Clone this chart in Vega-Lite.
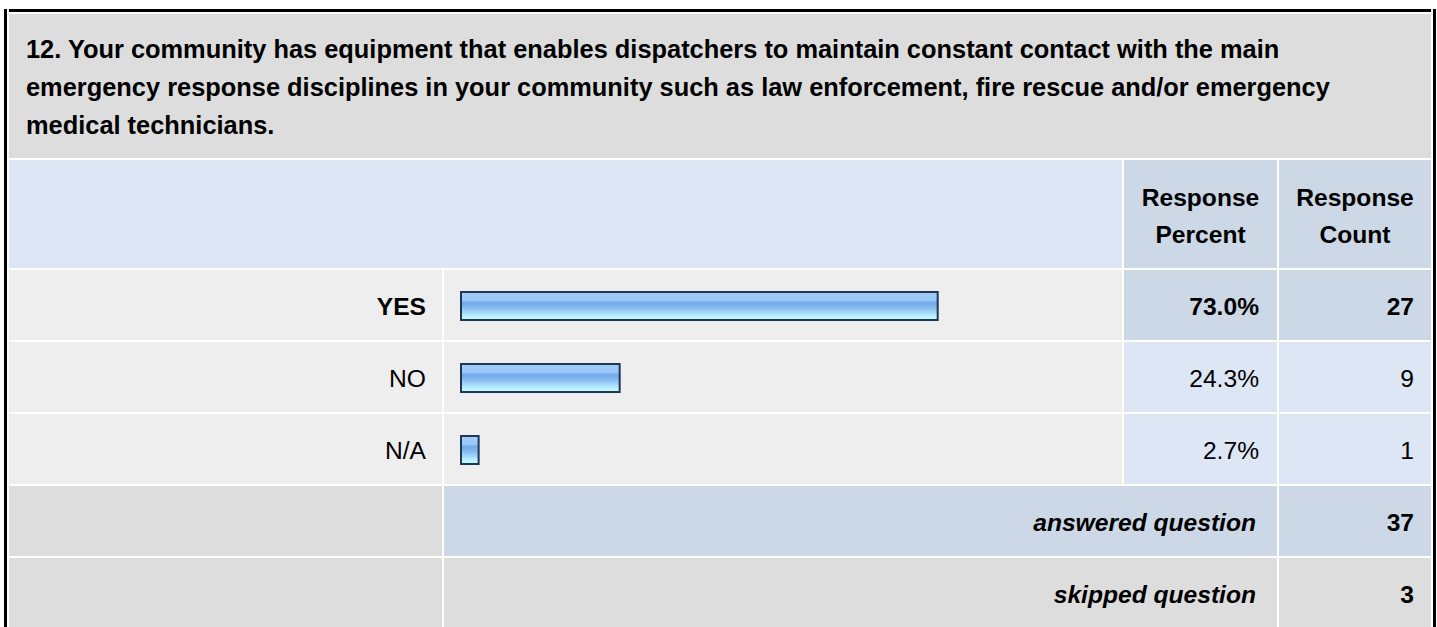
{
  "$schema": "https://vega.github.io/schema/vega-lite/v6.json",
  "background": "white",
  "padding": {"left": 4, "top": 9, "right": 0, "bottom": 0},
  "config": {"view": {"stroke": null}, "font": "Liberation Sans", "concat": {"spacing": 2}},
  "datasets": {
    "question": [
      {"text": "12. Your community has equipment that enables dispatchers to maintain constant contact with the main\nemergency response disciplines in your community such as law enforcement, fire rescue and/or emergency\nmedical technicians."}
    ],
    "responses": [
      {"answer": "YES", "percent": 0.730, "count": 27},
      {"answer": "NO", "percent": 0.243, "count": 9},
      {"answer": "N/A", "percent": 0.027, "count": 1}
    ],
    "summary": [
      {"metric": "answered question", "n": 37},
      {"metric": "skipped question", "n": 3}
    ]
  },
  "spacing": 2,
  "hconcat": [
    {"width": 3, "height": 620, "data": {"values": []}, "mark": "rect", "view": {"fill": "#000000", "stroke": null}},
    {
      "spacing": 2,
      "vconcat": [
        {"width": 1422, "height": 3, "data": {"values": []}, "mark": "rect", "view": {"fill": "#000000", "stroke": null}},
        {
          "width": 1422, "height": 144,
          "data": {"name": "question"},
          "view": {"fill": "#dddddd", "stroke": null},
          "mark": {"type": "text", "align": "left", "baseline": "middle", "lineBreak": "\n", "lineHeight": 38, "fontSize": 25.4, "fontWeight": "bold", "dx": 17, "dy": -36.5, "color": "#000000"},
          "encoding": {"x": {"value": 0}, "text": {"field": "text"}}
        },
        {
          "spacing": 2,
          "hconcat": [
            {"width": 1113, "height": 108, "data": {"values": []}, "mark": "rect", "view": {"fill": "#dce6f4", "stroke": null}},
            {
              "width": 153, "height": 108, "data": {"values": [{}]},
              "view": {"fill": "#ccd8e6", "stroke": null},
              "mark": {"type": "text", "text": "Response\nPercent", "lineBreak": "\n", "lineHeight": 37, "fontSize": 24.6, "fontWeight": "bold", "align": "center", "baseline": "middle", "dy": -15.5, "color": "#000000"}
            },
            {
              "width": 152, "height": 108, "data": {"values": [{}]},
              "view": {"fill": "#ccd8e6", "stroke": null},
              "mark": {"type": "text", "text": "Response\nCount", "lineBreak": "\n", "lineHeight": 37, "fontSize": 24.6, "fontWeight": "bold", "align": "center", "baseline": "middle", "dy": -15.5, "color": "#000000"}
            }
          ]
        },
        {
          "spacing": 2,
          "hconcat": [
            {
              "width": 433, "height": 214,
              "data": {"name": "responses"},
              "transform": [{"joinaggregate": [{"op": "max", "field": "count", "as": "maxCount"}]}],
              "encoding": {"y": {"field": "answer", "type": "nominal", "sort": null, "axis": null, "scale": {"domain": ["YES", "NO", "N/A"], "paddingInner": 0.02778, "paddingOuter": 0}}},
              "layer": [
                {"mark": {"type": "rect", "color": "#eeeeee"}},
                {
                  "transform": [{"filter": "datum.count === datum.maxCount"}],
                  "mark": {"type": "text", "align": "right", "baseline": "middle", "fontSize": 24.6, "fontWeight": "bold", "dx": -16, "dy": 3, "color": "#000000"},
                  "encoding": {"x": {"value": "width"}, "text": {"field": "answer"}}
                },
                {
                  "transform": [{"filter": "datum.count !== datum.maxCount"}],
                  "mark": {"type": "text", "align": "right", "baseline": "middle", "fontSize": 24.6, "fontWeight": "normal", "dx": -16, "dy": 3, "color": "#000000"},
                  "encoding": {"x": {"value": "width"}, "text": {"field": "answer"}}
                }
              ]
            },
            {
              "width": 678, "height": 214,
              "data": {"name": "responses"},
              "encoding": {"y": {"field": "answer", "type": "nominal", "sort": null, "axis": null, "scale": {"domain": ["YES", "NO", "N/A"], "paddingInner": 0.02778, "paddingOuter": 0}}},
              "layer": [
                {"mark": {"type": "rect", "color": "#eeeeee"}},
                {
                  "mark": {
                    "type": "bar", "height": 28, "yOffset": 1, "stroke": "#1f3657", "strokeWidth": 2,
                    "fill": {"gradient": "linear", "x1": 0, "y1": 0, "x2": 0, "y2": 1, "stops": [
                      {"offset": 0, "color": "#a0cdfb"},
                      {"offset": 0.3, "color": "#99c8f9"},
                      {"offset": 0.36, "color": "#74acec"},
                      {"offset": 0.5, "color": "#7db4ee"},
                      {"offset": 0.62, "color": "#8fc4f3"},
                      {"offset": 0.75, "color": "#a8dcfa"},
                      {"offset": 0.88, "color": "#bdf3ff"},
                      {"offset": 1, "color": "#c8f9ff"}
                    ]}
                  },
                  "encoding": {"x": {"field": "percent", "type": "quantitative", "axis": null, "scale": {"domain": [-0.026034, 1.012251], "nice": false}}}
                }
              ]
            },
            {
              "width": 153, "height": 214,
              "data": {"name": "responses"},
              "transform": [{"joinaggregate": [{"op": "max", "field": "count", "as": "maxCount"}]}],
              "encoding": {"y": {"field": "answer", "type": "nominal", "sort": null, "axis": null, "scale": {"domain": ["YES", "NO", "N/A"], "paddingInner": 0.02778, "paddingOuter": 0}}},
              "layer": [
                {"mark": {"type": "rect"}, "encoding": {"color": {"condition": {"test": "datum.count === datum.maxCount", "value": "#ccd8e6"}, "value": "#dce6f4"}}},
                {
                  "transform": [{"filter": "datum.count === datum.maxCount"}],
                  "mark": {"type": "text", "align": "right", "baseline": "middle", "fontSize": 24.6, "fontWeight": "bold", "dx": -18, "dy": 3, "color": "#000000"},
                  "encoding": {"x": {"value": "width"}, "text": {"field": "percent", "format": ".1%"}}
                },
                {
                  "transform": [{"filter": "datum.count !== datum.maxCount"}],
                  "mark": {"type": "text", "align": "right", "baseline": "middle", "fontSize": 24.6, "fontWeight": "normal", "dx": -18, "dy": 3, "color": "#000000"},
                  "encoding": {"x": {"value": "width"}, "text": {"field": "percent", "format": ".1%"}}
                }
              ]
            },
            {
              "width": 152, "height": 214,
              "data": {"name": "responses"},
              "transform": [{"joinaggregate": [{"op": "max", "field": "count", "as": "maxCount"}]}],
              "encoding": {"y": {"field": "answer", "type": "nominal", "sort": null, "axis": null, "scale": {"domain": ["YES", "NO", "N/A"], "paddingInner": 0.02778, "paddingOuter": 0}}},
              "layer": [
                {"mark": {"type": "rect"}, "encoding": {"color": {"condition": {"test": "datum.count === datum.maxCount", "value": "#ccd8e6"}, "value": "#dce6f4"}}},
                {
                  "transform": [{"filter": "datum.count === datum.maxCount"}],
                  "mark": {"type": "text", "align": "right", "baseline": "middle", "fontSize": 24.6, "fontWeight": "bold", "dx": -17, "dy": 3, "color": "#000000"},
                  "encoding": {"x": {"value": "width"}, "text": {"field": "count"}}
                },
                {
                  "transform": [{"filter": "datum.count !== datum.maxCount"}],
                  "mark": {"type": "text", "align": "right", "baseline": "middle", "fontSize": 24.6, "fontWeight": "normal", "dx": -17, "dy": 3, "color": "#000000"},
                  "encoding": {"x": {"value": "width"}, "text": {"field": "count"}}
                }
              ]
            }
          ]
        },
        {
          "spacing": 2,
          "hconcat": [
            {
              "width": 433, "height": 142,
              "data": {"name": "summary"},
              "mark": {"type": "rect", "color": "#dddddd"},
              "encoding": {"y": {"field": "metric", "type": "nominal", "sort": null, "axis": null, "scale": {"domain": ["answered question", "skipped question"], "paddingInner": 0.02778, "paddingOuter": 0}}}
            },
            {
              "width": 833, "height": 142,
              "data": {"name": "summary"},
              "encoding": {"y": {"field": "metric", "type": "nominal", "sort": null, "axis": null, "scale": {"domain": ["answered question", "skipped question"], "paddingInner": 0.02778, "paddingOuter": 0}}},
              "layer": [
                {"mark": {"type": "rect"}, "encoding": {"color": {"condition": {"test": "datum.metric === 'answered question'", "value": "#ccd8e6"}, "value": "#dddddd"}}},
                {
                  "mark": {"type": "text", "align": "right", "baseline": "middle", "fontSize": 24.6, "fontWeight": "bold", "fontStyle": "italic", "dx": -21, "dy": 3, "color": "#000000"},
                  "encoding": {"x": {"value": "width"}, "text": {"field": "metric"}}
                }
              ]
            },
            {
              "width": 152, "height": 142,
              "data": {"name": "summary"},
              "encoding": {"y": {"field": "metric", "type": "nominal", "sort": null, "axis": null, "scale": {"domain": ["answered question", "skipped question"], "paddingInner": 0.02778, "paddingOuter": 0}}},
              "layer": [
                {"mark": {"type": "rect"}, "encoding": {"color": {"condition": {"test": "datum.metric === 'answered question'", "value": "#ccd8e6"}, "value": "#dddddd"}}},
                {
                  "mark": {"type": "text", "align": "right", "baseline": "middle", "fontSize": 24.6, "fontWeight": "bold", "dx": -17, "dy": 3, "color": "#000000"},
                  "encoding": {"x": {"value": "width"}, "text": {"field": "n"}}
                }
              ]
            }
          ]
        }
      ]
    },
    {"width": 3, "height": 620, "data": {"values": []}, "mark": "rect", "view": {"fill": "#000000", "stroke": null}}
  ]
}
